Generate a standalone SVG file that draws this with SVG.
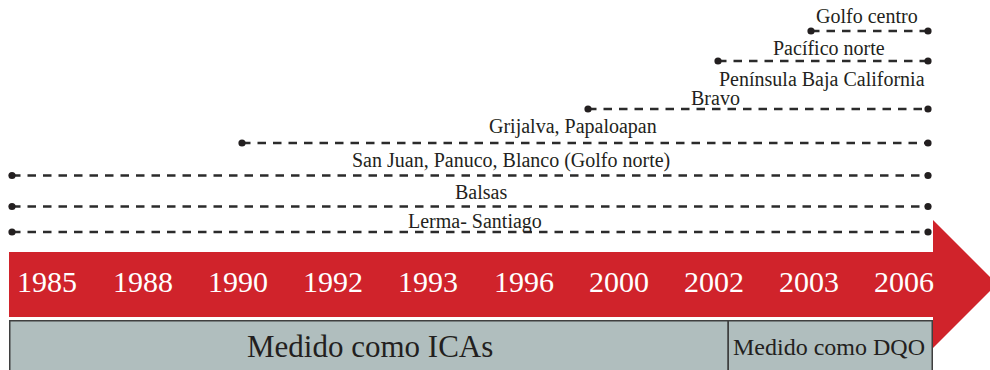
<svg xmlns="http://www.w3.org/2000/svg" width="990" height="370" viewBox="0 0 990 370">
<style>
.lbl{font-family:"Liberation Serif","Times New Roman",serif;font-size:20px;fill:#231f20}
.yr{font-family:"Liberation Serif","Times New Roman",serif;font-size:30px;fill:#ffffff;text-anchor:middle}
.box{font-family:"Liberation Serif","Times New Roman",serif;fill:#231f20}
.dash{stroke:#2b2b2b;stroke-width:2.4;stroke-dasharray:8.5 7;fill:none}
.dot{fill:#231f20}
</style>
<rect width="990" height="370" fill="#ffffff"/>
<g id="timeline-arrow">
<polygon points="9,252 933,252 933,220 997,284 933,348 933,317 9,317" fill="#d0232b"/>
<text class="yr" x="47" y="292">1985</text>
<text class="yr" x="143" y="292">1988</text>
<text class="yr" x="238" y="292">1990</text>
<text class="yr" x="333" y="292">1992</text>
<text class="yr" x="428" y="292">1993</text>
<text class="yr" x="524" y="292">1996</text>
<text class="yr" x="619" y="292">2000</text>
<text class="yr" x="714" y="292">2002</text>
<text class="yr" x="809" y="292">2003</text>
<text class="yr" x="904" y="292">2006</text>
</g>
<g id="box-ica">
<rect x="9.75" y="320.75" width="718.5" height="52" fill="#b0bebe" stroke="#3f3f3f" stroke-width="1.5"/>
<text class="box" x="247" y="357" font-size="31">Medido como ICAs</text>
</g>
<g id="box-dqo">
<rect x="728.25" y="320.75" width="204" height="52" fill="#b0bebe" stroke="#3f3f3f" stroke-width="1.5"/>
<text class="box" x="733" y="355" font-size="24">Medido como DQO</text>
</g>
<g id="connectors">
<line class="dash" x1="811" y1="31" x2="928" y2="31"/>
<line class="dash" x1="718" y1="61" x2="928" y2="61"/>
<line class="dash" x1="588" y1="109" x2="928" y2="109"/>
<line class="dash" x1="242" y1="143" x2="928" y2="143"/>
<line class="dash" x1="12" y1="175.5" x2="928" y2="175.5"/>
<line class="dash" x1="12" y1="206.5" x2="928" y2="206.5"/>
<line class="dash" x1="12" y1="232" x2="928" y2="232"/>
<circle class="dot" cx="811" cy="31" r="3.6"/><circle class="dot" cx="928" cy="31" r="3.6"/>
<circle class="dot" cx="718" cy="61" r="3.6"/><circle class="dot" cx="928" cy="61" r="3.6"/>
<circle class="dot" cx="588" cy="109" r="3.6"/><circle class="dot" cx="928" cy="109" r="3.6"/>
<circle class="dot" cx="242" cy="143" r="3.6"/><circle class="dot" cx="928" cy="143" r="3.6"/>
<circle class="dot" cx="12" cy="175.5" r="3.6"/><circle class="dot" cx="928" cy="175.5" r="3.6"/>
<circle class="dot" cx="12" cy="206.5" r="3.6"/><circle class="dot" cx="928" cy="206.5" r="3.6"/>
<circle class="dot" cx="12" cy="232" r="3.6"/><circle class="dot" cx="928" cy="232" r="3.6"/>
</g>
<g id="label-golfo-centro"><text class="lbl" x="816" y="23">Golfo centro</text></g>
<g id="label-pacifico-norte"><text class="lbl" x="773" y="55">Pacífico norte</text></g>
<g id="label-peninsula"><text class="lbl" x="719" y="85.5">Península Baja California</text></g>
<g id="label-bravo"><text class="lbl" x="691" y="104.5">Bravo</text></g>
<g id="label-grijalva"><text class="lbl" x="489" y="133">Grijalva, Papaloapan</text></g>
<g id="label-san-juan"><text class="lbl" x="352" y="167">San Juan, Panuco, Blanco (Golfo norte)</text></g>
<g id="label-balsas"><text class="lbl" x="455" y="199">Balsas</text></g>
<g id="label-lerma"><text class="lbl" x="408" y="228">Lerma- Santiago</text></g>
</svg>
